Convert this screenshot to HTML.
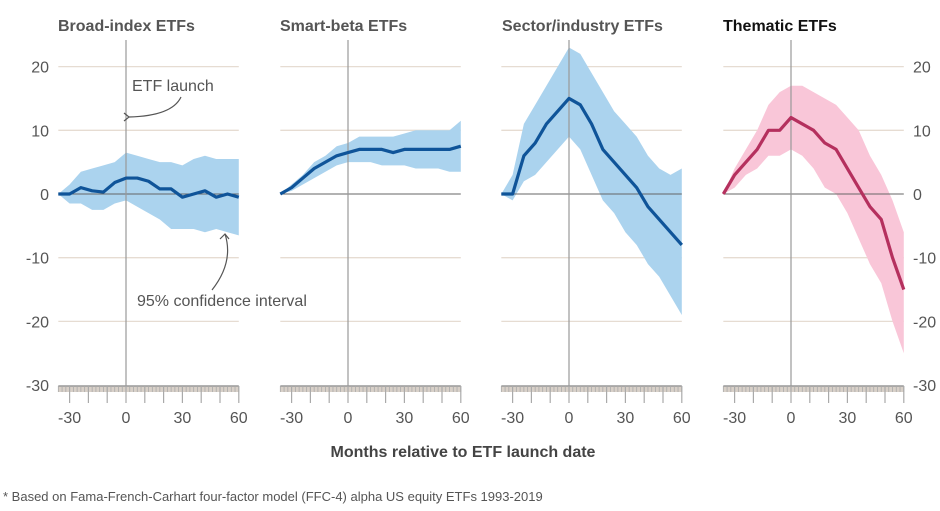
<!DOCTYPE html>
<html><head><meta charset="utf-8"><style>
body{margin:0;background:#fff;}
svg{display:block;font-family:"Liberation Sans",sans-serif;}
</style></head><body>
<svg id="c" width="940" height="511" viewBox="0 0 940 511"></svg>
<script>
const months=[-36,-30,-24,-18,-12,-6,0,6,12,18,24,30,36,42,48,54,60];
const titles=["Broad-index ETFs","Smart-beta ETFs","Sector/industry ETFs","Thematic ETFs"];
const p1Mean=[0,0,1,0.5,0.3,1.8,2.5,2.5,2,0.8,0.8,-0.5,0,0.5,-0.5,0,-0.5];
const p1Up=[0,1.5,3.5,4,4.5,5,6.5,6,5.5,5,5,4.5,5.5,6,5.5,5.5,5.5];
const p1Lo=[0,-1.5,-1.5,-2.5,-2.5,-1.5,-1,-2,-3,-4,-5.5,-5.5,-5.5,-6,-5.5,-6,-6.5];
const p2Mean=[0,1,2.5,4,5,6,6.5,7,7,7,6.5,7,7,7,7,7,7.5];
const p2Up=[0,1.5,3,5,6,7.5,8,9,9,9,9,9.5,10,10,10,10,11.5];
const p2Lo=[0,0.5,1.5,2.5,3.5,4.5,5,5,5,4.5,4.5,4.5,4,4,4,3.5,3.5];
const p3Mean=[0,0,6,8,11,13,15,14,11,7,5,3,1,-2,-4,-6,-8];
const p3Up=[0,3,11,14,17,20,23,22,19,16,13,11,9,6,4,3,4];
const p3Lo=[0,-1,2,3,5,7,9,7,3,-1,-3,-6,-8,-11,-13,-16,-19];
const p4Mean=[0,3,5,7,10,10,12,11,10,8,7,4,1,-2,-4,-10,-15];
const p4Up=[0,4,7,10,14,16,17,17,16,15,14,12,10,6,3,-1,-6];
const p4Lo=[0,1,3,4,6,6,7,6,4,1,0,-3,-7,-11,-14,-20,-25];
const yTicks=[20,10,0,-10,-20,-30];
const xTicks=[-30,0,30,60];

const panels=[[p1Mean,p1Up,p1Lo],[p2Mean,p2Up,p2Lo],[p3Mean,p3Up,p3Lo],[p4Mean,p4Up,p4Lo]];
const zeroX=[126,348,569,791];
const pxPerMonth=1.88;
const y=v=>194-v*6.37;
const svg=document.getElementById('c');
const NS="http://www.w3.org/2000/svg";
function mk(tag,attrs,parent){const e=document.createElementNS(NS,tag);for(const k in attrs)e.setAttribute(k,attrs[k]);(parent||svg).appendChild(e);return e;}

panels.forEach((p,i)=>{
  const x=m=>zeroX[i]+m*pxPerMonth;
  const g=mk('g',{});
  
  
  const x0=x(-36),x1=x(60);
  yTicks.slice(0,5).forEach(t=>{if(t!==0){const l=mk('line',{x1:x0,x2:x1,y1:y(t),y2:y(t),stroke:'#e6dcd2','stroke-width':1.3},g);}});
  const thematic=i===3;
  const band=mk('path',{d:'M'+months.map((m,k)=>x(m)+','+y(p[1][k])).join('L')+'L'+months.map((m,k)=>x(m)+','+y(p[2][k])).reverse().join('L')+'Z',fill:thematic?'#f9c6d8':'#abd3ee'},g);
  
  
  const zl=mk('line',{x1:x0,x2:x1,y1:y(0),y2:y(0),stroke:'#666','stroke-width':1},g);
  
  
  const vl=mk('line',{x1:x(0),x2:x(0),y1:40,y2:386,stroke:'#999','stroke-width':1.2},g);
  
  
  const ln=mk('path',{d:'M'+months.map((m,k)=>x(m)+','+y(p[0][k])).join('L'),fill:'none',stroke:thematic?'#b5305e':'#0f5499','stroke-width':3.2,'stroke-linejoin':'round'},g);
  
  
  // x axis
  const ax=mk('rect',{x:x0,y:386,width:x1-x0,height:6,fill:'#d8d0c8'},g);
  
  
  mk('line',{x1:x0,x2:x1,y1:386,y2:386,stroke:'#999','stroke-width':1.5},g);
  for(let m=-36;m<=60;m+=2){mk('line',{x1:x(m),x2:x(m),y1:386,y2:392,stroke:'#aaa','stroke-width':0.8},g);}
  for(let m=-30;m<=60;m+=10){mk('line',{x1:x(m),x2:x(m),y1:386,y2:403,stroke:'#aaa','stroke-width':1.2},g);}
  xTicks.forEach(t=>{const tx=mk('text',{x:x(t),y:423,'text-anchor':'middle','font-size':16,fill:'#555'},g);tx.textContent=t;});
  const tt=mk('text',{x:[58,280,502,723][i],y:31,'font-size':16,'font-weight':'bold',fill:thematic?'#111':'#555'},g);
  tt.textContent=titles[i];
  
  
});
yTicks.forEach(t=>{
  const a=mk('text',{x:49,y:y(t)+6,'text-anchor':'end','font-size':16,fill:'#555'});a.textContent=t;
  
  const b=mk('text',{x:913,y:y(t)+6,'font-size':16,fill:'#555'});b.textContent=t;
  
});
</script>
<svg width="0" height="0"></svg>
<div style="position:absolute;left:0;top:0;width:940px;height:511px;pointer-events:none;">
<svg width="940" height="511" style="position:absolute;left:0;top:0;font-family:'Liberation Sans',sans-serif;">
<text x="132" y="91" font-size="16" fill="#555">ETF launch</text>
<path d="M181,97 Q172,116 129,117" fill="none" stroke="#555" stroke-width="1.2"/>
<path d="M124,113 L129,117 L124,121" fill="none" stroke="#555" stroke-width="1.2"/>
<text x="137" y="306" font-size="16" fill="#555">95% confidence interval</text>
<path d="M212,290 Q234,262 225,234" fill="none" stroke="#555" stroke-width="1.2"/>
<path d="M220,239 L225,234 L229,239" fill="none" stroke="#555" stroke-width="1.2"/>
<text x="463" y="457" text-anchor="middle" font-size="16" font-weight="bold" fill="#444">Months relative to ETF launch date</text>
<text x="3" y="501" font-size="13" fill="#555">* Based on Fama-French-Carhart four-factor model (FFC-4) alpha US equity ETFs 1993-2019</text>
</svg></div>
</body></html>
